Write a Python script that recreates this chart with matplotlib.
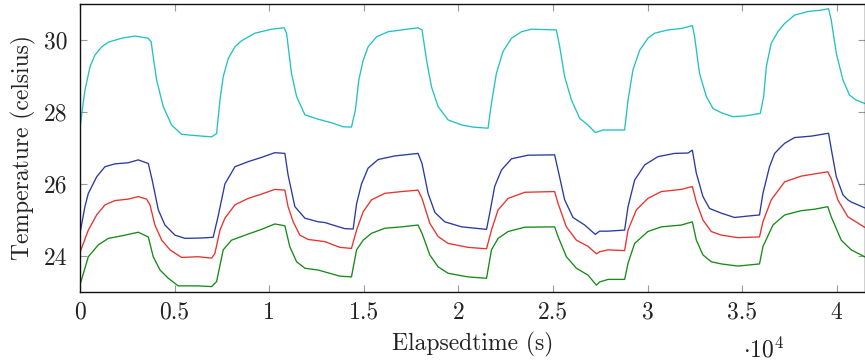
import matplotlib
matplotlib.use("Agg")
import matplotlib.pyplot as plt

plt.rcParams['font.family'] = ['cmr10', 'DejaVu Serif']
plt.rcParams['mathtext.fontset'] = 'cm'
plt.rcParams['axes.formatter.use_mathtext'] = True

# ---- data (time in seconds, temperature in celsius) ----
t_cyan = [0, 130, 260, 530, 790, 1150, 1500, 2200, 2900, 3600, 3760, 3880, 4050, 4400, 4840, 5370, 6430, 6960, 7220,
          7400, 7570, 7840, 8190, 8540, 9250, 10130, 10790, 10920, 11180, 11450, 11890, 12590, 13300, 13910, 14350,
          14560, 14740, 14970, 15230, 15680, 16290, 17000, 17870, 18080, 18320, 18580, 18930, 19460, 20170, 20780, 21570,
          21750, 22010, 22360, 22810, 23340, 23860, 25180, 25360, 25620, 25980, 26420, 26850, 27240, 27650, 28790,
          28970, 29230, 29590, 30020, 30380, 31080, 31790, 32370, 32490, 32750, 33110, 33460, 33900, 34510, 35130, 35960,
          36140, 36280, 36540, 36890, 37250, 37770, 38480, 39180, 39570, 39710, 39980, 40330, 40680, 41030, 41470]
T_cyan = [27.55, 28.1, 28.6, 29.26, 29.58, 29.81, 29.94, 30.05, 30.11, 30.05, 29.95, 29.5, 28.89, 28.15, 27.64, 27.38, 27.33, 27.31, 27.4,
          28.33, 28.98, 29.49, 29.81, 29.98, 30.19, 30.3, 30.34, 30.19, 29.07, 28.43, 27.92, 27.8, 27.7, 27.59, 27.58,
          28.06, 28.89, 29.44, 29.81, 30.09, 30.23, 30.28, 30.34, 30.28, 29.44, 28.7, 28.15, 27.78, 27.64, 27.58, 27.55,
          28.24, 29.07, 29.68, 30.05, 30.23, 30.3, 30.28, 29.81, 28.98, 28.33, 27.82, 27.64, 27.43, 27.5, 27.5,
          28.33, 29.17, 29.72, 30.05, 30.19, 30.28, 30.32, 30.4, 30.09, 29.07, 28.43, 28.1, 27.98, 27.87, 27.89, 27.96,
          28.43, 29.26, 29.91, 30.23, 30.46, 30.69, 30.79, 30.83, 30.87, 30.56, 29.63, 28.89, 28.47, 28.33, 28.24]

t_blue = [0, 260, 440, 530, 880, 1320, 1850, 2550, 3080, 3610, 3820, 4140, 4490, 5020, 5550, 6430, 7040,
          7300, 7660, 8190, 8890, 9600, 10300, 10830, 11000, 11360, 11890, 12590, 12940, 13740, 14000, 14440,
          14620, 14880, 15230, 15760, 16640, 17000, 17870, 18080, 18400, 18760, 19280, 20170, 21490,
          21660, 21920, 22280, 22810, 23680, 25090, 25270, 25620, 26060, 26680, 27240, 27470, 27920, 28790,
          28970, 29320, 29850, 30550, 31430, 32140, 32370, 32580, 32930, 33280, 33900, 34600, 35130, 35920,
          36100, 36450, 36720, 37070, 37250, 37770, 38660, 39570, 39710, 39980, 40330, 40590, 40770, 41470]
T_blue = [24.63, 25.37, 25.74, 25.83, 26.2, 26.48, 26.56, 26.59, 26.67, 26.57, 26.1, 25.28, 24.86, 24.58, 24.49, 24.5, 24.52,
          25.1, 26.0, 26.48, 26.62, 26.74, 26.87, 26.85, 26.25, 25.37, 25.05, 24.95, 24.93, 24.8, 24.76, 24.75,
          25.45, 26.0, 26.44, 26.68, 26.78, 26.8, 26.85, 26.57, 25.74, 25.21, 24.95, 24.81, 24.74,
          25.19, 25.93, 26.39, 26.7, 26.8, 26.81, 26.39, 25.56, 25.07, 24.86, 24.6, 24.69, 24.69, 24.72,
          25.37, 26.11, 26.53, 26.76, 26.85, 26.86, 26.94, 26.3, 25.65, 25.32, 25.19, 25.07, 25.1, 25.14,
          25.74, 26.48, 26.85, 27.04, 27.13, 27.29, 27.33, 27.41, 26.98, 26.2, 25.7, 25.56, 25.5, 25.34]

t_red = [0, 440, 880, 1320, 1850, 2550, 3080, 3520, 3700, 3960, 4320, 4760, 5370, 6250, 6960, 7130,
         7400, 7660, 8190, 8890, 9600, 10300, 10830, 11000, 11270, 11620, 12060, 12940, 13740, 14350,
         14620, 14970, 15410, 16110, 17000, 17870, 18080, 18490, 18930, 19460, 20510, 21490,
         21750, 22100, 22630, 23510, 25090, 25270, 25710, 26240, 26850, 27300, 27470, 27920, 28790,
         28970, 29410, 30020, 30730, 31790, 32370, 32580, 32930, 33370, 33900, 34780, 35920,
         36100, 36540, 37250, 38130, 38830, 39530, 39710, 40060, 40590, 41470]
T_red = [24.1, 24.72, 25.14, 25.42, 25.54, 25.58, 25.65, 25.58, 25.42, 24.86, 24.44, 24.17, 23.96, 23.98, 23.94, 24.07,
         24.72, 25.05, 25.42, 25.6, 25.72, 25.85, 25.83, 25.37, 24.95, 24.58, 24.46, 24.4, 24.24, 24.21,
         24.72, 25.23, 25.56, 25.74, 25.79, 25.83, 25.6, 24.91, 24.54, 24.35, 24.24, 24.2,
         24.72, 25.28, 25.6, 25.77, 25.79, 25.46, 24.81, 24.44, 24.27, 24.06, 24.12, 24.17, 24.15,
         24.72, 25.28, 25.6, 25.79, 25.85, 25.93, 25.5, 25.0, 24.68, 24.58, 24.51, 24.53,
         24.95, 25.56, 26.06, 26.22, 26.28, 26.34, 26.15, 25.56, 25.09, 24.8]

t_green = [0, 440, 970, 1500, 2200, 3080, 3610, 3870, 4230, 4670, 5190, 6250, 6960, 7220,
           7570, 8010, 8890, 9600, 10300, 10830, 11090, 11450, 11890, 12590, 13740, 14350,
           14620, 14970, 15410, 16110, 17000, 17870, 18080, 18490, 18930, 19460, 20510, 21490,
           21750, 22100, 22630, 23510, 25090, 25270, 25710, 26240, 26850, 27300, 27470, 27920, 28790,
           28970, 29320, 30020, 30730, 31790, 32370, 32580, 32930, 33370, 33900, 34780, 35920,
           36100, 36630, 37250, 38130, 38830, 39530, 39710, 40240, 40770, 41470]
T_green = [23.2, 23.98, 24.31, 24.49, 24.56, 24.66, 24.53, 23.98, 23.61, 23.38, 23.17, 23.17, 23.15, 23.29,
           24.17, 24.44, 24.61, 24.74, 24.89, 24.84, 24.26, 23.84, 23.66, 23.61, 23.44, 23.42,
           24.17, 24.44, 24.63, 24.77, 24.81, 24.86, 24.63, 24.03, 23.7, 23.52, 23.42, 23.38,
           24.17, 24.49, 24.68, 24.8, 24.81, 24.54, 23.98, 23.66, 23.47, 23.19, 23.28, 23.35, 23.35,
           23.8, 24.35, 24.68, 24.81, 24.86, 24.95, 24.44, 24.03, 23.84, 23.78, 23.72, 23.78,
           24.26, 24.86, 25.14, 25.26, 25.3, 25.37, 25.09, 24.44, 24.17, 23.98]

x_ticks = [0, 5000, 10000, 15000, 20000, 25000, 30000, 35000, 40000]
x_tick_labels = ['0', '0.5', '1', '1.5', '2', '2.5', '3', '3.5', '4']
y_ticks = [24, 26, 28, 30]
y_tick_labels = ['24', '26', '28', '30']

# ---- figure ----
fig = plt.figure(figsize=(8.65, 3.64), dpi=100)
ax = fig.add_axes([80/865, 1 - 292/364, 784.5/865, 288/364])

lw = 0.95
ax.plot(t_cyan, T_cyan, color='#22c2c2', lw=lw)
ax.plot(t_blue, T_blue, color='#2a3a9e', lw=lw)
ax.plot(t_red, T_red, color='#e8322c', lw=lw)
ax.plot(t_green, T_green, color='#178a17', lw=lw)

ax.set_xlim(0, 41470)
ax.set_ylim(23, 31)
ax.set_xticks(x_ticks)
ax.set_xticklabels(x_tick_labels)
ax.set_yticks(y_ticks)
ax.set_yticklabels(y_tick_labels)

fs = 17
ax.tick_params(direction='in', top=True, right=True, length=5, width=0.8,
               color='#9a9a9a', labelsize=fs, labelcolor='#222222')
ax.tick_params(axis='x', pad=7)
ax.tick_params(axis='y', pad=9)
for s in ax.spines.values():
    s.set_linewidth(1.0)
    s.set_color('#111111')

ax.set_xlabel('Elapsedtime (s)', fontsize=fs, color='#222222', labelpad=6)
ax.set_ylabel('Temperature (celsius)', fontsize=fs, color='#222222', labelpad=6)
fig.text(764/865, 1 - 350/364, r'$\cdot 10^{4}$', fontsize=fs, ha='center', va='center', color='#222222')

fig.savefig('out.png', dpi=100)
